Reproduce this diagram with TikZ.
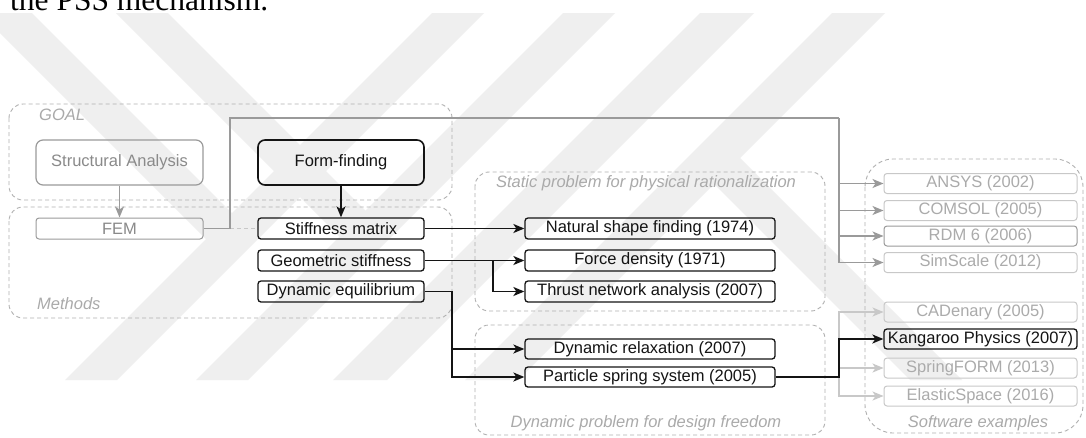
\documentclass[tikz,border=0pt]{standalone}
\usepackage{fontspec}
\setmainfont{Liberation Sans}
\newfontfamily\serifface{Liberation Serif}
\usetikzlibrary{arrows.meta}
\definecolor{blk}{HTML}{141414}
\definecolor{gry}{HTML}{9A9A9A}
\definecolor{gtxt}{HTML}{8A8A8A}
\definecolor{lgry}{HTML}{C8C8C8}
\definecolor{ltxt}{HTML}{ABABAB}
\definecolor{cgry}{HTML}{B0B0B0}
\definecolor{ctxt}{HTML}{AAAAAA}
\definecolor{wm}{HTML}{EFEFEF}
\begin{document}
\begin{tikzpicture}[x=1pt,y=-1pt,
  every node/.style={inner sep=0pt, font=\fontsize{16.5}{19}\selectfont},
  bbox/.style={draw=blk, line width=1.3pt, rounded corners=3pt, text=blk},
  bbig/.style={bbox, line width=1.6pt, rounded corners=7pt},
  gbox/.style={draw=gry, line width=1pt, rounded corners=3pt, text=gtxt},
  gbig/.style={gbox, line width=1.2pt, rounded corners=7pt},
  lbox/.style={draw=lgry, line width=1pt, rounded corners=3pt, text=ltxt},
  container/.style={draw=cgry, dash pattern=on 4pt off 3pt, line width=0.9pt, rounded corners=14pt},
  clabel/.style={text=ctxt, font=\fontsize{16.5}{19}\selectfont\itshape},
  barrow/.style={draw=blk, line width=1.8pt, -{Stealth[length=11pt,width=9pt,inset=3pt]}},
  garrow/.style={draw=gry, line width=1.2pt, -{Stealth[length=11pt,width=9pt,inset=3pt]}},
  larrow/.style={draw=lgry, line width=1.2pt, -{Stealth[length=11pt,width=9pt,inset=3pt]}},
  gline/.style={draw=gry, line width=1.2pt},
  gdash/.style={draw=lgry, line width=1.2pt, dash pattern=on 4pt off 3pt}
]
\useasboundingbox (0,0) rectangle (1086,437);
\fill[white] (0,0) rectangle (1086,437);
% watermark
\begin{scope}
\clip (0,13) rectangle (1086,380);
\fill[wm] (432,13) -- (484,13) -- (117,380) -- (65,380) -- cycle;
\fill[wm] (563,13) -- (615,13) -- (248,380) -- (196,380) -- cycle;
\fill[wm] (700,13) -- (754,13) -- (387,380) -- (333,380) -- cycle;
\fill[wm] (832,13) -- (885,13) -- (518,380) -- (465,380) -- cycle;
\fill[wm] (-20,13) -- (32,13) -- (245,226) -- (219,252) -- cycle;
\fill[wm] (116,13) -- (168,13) -- (378.5,223.5) -- (352.5,249.5) -- cycle;
\fill[wm] (700.75,170.75) -- (726.75,144.75) -- (962,380) -- (910,380) -- cycle;
\end{scope}
% cut caption line at top
\begin{scope}
\clip (0,0) rectangle (1086,437);
\node[anchor=base west, font=\serifface\fontsize{31.5}{36}\selectfont] (cap) at (10,10.5) {the PSS mechanism.};
\end{scope}
% containers
\draw[container] (9,104) rectangle (452,200);
\draw[container] (9,207) rectangle (452,318);
\draw[container] (475,172) rectangle (825,311);
\draw[container] (475,325) rectangle (825,435);
\draw[container, rounded corners=28pt] (865,159) rectangle (1083,433);
\node[clabel, anchor=west] (lgoal) at (39,115) {GOAL};
\node[clabel, anchor=west] (lmeth) at (37,304) {Methods};
\node[clabel] (lstat) at (646,183) {Static problem for physical rationalization};
\node[clabel] (ldyn) at (646,423) {Dynamic problem for design freedom};
\node[clabel] (lsoft) at (978,423) {Software examples};
% goal boxes
\node[gbig, minimum width=167pt, minimum height=45pt] (sa) at (119.5,162.5) {Structural Analysis};
\node[bbig, minimum width=166pt, minimum height=45pt] (ff) at (341,162.5) {Form-finding};
% methods
\node[gbox, minimum width=167pt, minimum height=21pt] (fem) at (119.5,228.5) {FEM};
\node[bbox, minimum width=166pt, minimum height=21pt] (sm) at (341,228.5) {Stiffness matrix};
\node[bbox, minimum width=166pt, minimum height=21pt] (gs) at (341,260.5) {Geometric stiffness};
\node[bbox, minimum width=166pt, minimum height=21pt] (de) at (341,291.5) {Dynamic equilibrium};
% static
\node[bbox, minimum width=250pt, minimum height=21pt] (nsf) at (650,228.5) {Natural shape finding (1974)};
\node[bbox, minimum width=250pt, minimum height=21pt] (fd) at (650,260.5) {Force density (1971)};
\node[bbox, minimum width=250pt, minimum height=21pt] (tna) at (650,291.5) {Thrust network analysis (2007)};
% dynamic
\node[bbox, minimum width=250pt, minimum height=20pt] (dr) at (650,349) {Dynamic relaxation (2007)};
\node[bbox, minimum width=250pt, minimum height=20pt] (pss) at (650,377) {Particle spring system (2005)};
% software
\node[lbox, minimum width=193pt, minimum height=20pt] (ansys) at (980.5,183.5) {ANSYS (2002)};
\node[lbox, minimum width=193pt, minimum height=20pt] (comsol) at (980.5,210.5) {COMSOL (2005)};
\node[lbox, draw=gry, minimum width=193pt, minimum height=20pt] (rdm) at (980.5,236) {RDM 6 (2006)};
\node[lbox, minimum width=193pt, minimum height=20pt] (sims) at (980.5,262.5) {SimScale (2012)};
\node[lbox, minimum width=193pt, minimum height=20pt] (cad) at (980.5,312) {CADenary (2005)};
\node[bbox, minimum width=193pt, minimum height=20pt] (kp) at (980.5,339) {Kangaroo Physics (2007)};
\node[lbox, minimum width=193pt, minimum height=20pt] (spf) at (980.5,368) {SpringFORM (2013)};
\node[lbox, minimum width=193pt, minimum height=20pt] (es) at (980.5,396) {ElasticSpace (2016)};
% junctions
\coordinate (j1) at (493,260.5);
\coordinate (j2) at (452,291.5);
\coordinate (j3) at (230,228.5);
\coordinate (j4) at (230,118);
\coordinate (j5) at (839,118);
\coordinate (j6) at (839,377);
% connectors
\draw[garrow] (sa) -- (fem);
\draw[barrow] (ff) -- (sm);
\draw[gdash] (j3) -- (sm.west);
\draw[gline] (fem.east) -- (j3) -- (j4) -- (j5);
\draw[garrow] (j5) |- (ansys.west);
\draw[garrow] (j5) |- (comsol.west);
\draw[garrow] (j5) |- (rdm.west);
\draw[garrow] (j5) |- (sims.west);
\draw[barrow] (sm) -- (nsf);
\draw[barrow] (gs.east) -- (fd.west);
\draw[barrow] (j1) |- (tna.west);
\draw[barrow] (de.east) -- (j2) |- (dr.west);
\draw[barrow] (j2) |- (pss.west);
\draw[larrow] (j6) |- (cad.west);
\draw[larrow] (j6) |- (spf.west);
\draw[larrow] (j6) |- (es.west);
\draw[barrow] (pss.east) -- (j6) |- (kp.west);
\end{tikzpicture}
\end{document}
